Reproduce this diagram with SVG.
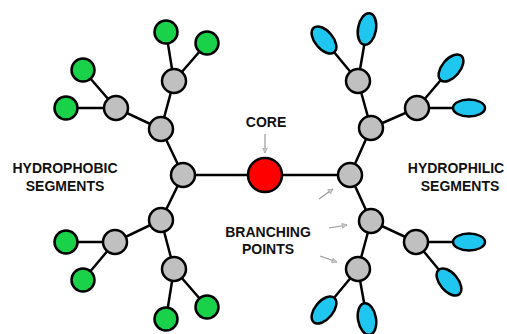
<svg xmlns="http://www.w3.org/2000/svg" width="507" height="334" viewBox="0 0 507 334">
<style>
.e{stroke:#000;stroke-width:2.5;fill:none}
.g{fill:#c0c0c0;stroke:#000;stroke-width:2.5}
.gr{fill:#19d24a;stroke:#000;stroke-width:2.5}
.b{fill:#1ec6f0;stroke:#000;stroke-width:2.5}
.r{fill:#ff0000;stroke:#000;stroke-width:2.5}
.t{font-family:"Liberation Sans",Arial,sans-serif;font-weight:bold;font-size:14px;fill:#111;text-anchor:middle}
.a{stroke:#999;stroke-width:1.2;fill:none;marker-end:url(#ah)}
</style>
<defs>
<marker id="ah" viewBox="0 0 10 10" refX="9" refY="5" markerWidth="6" markerHeight="6" orient="auto" markerUnits="userSpaceOnUse">
<path d="M1,1 L9,5 L1,9 Z" fill="#ccc" stroke="#999" stroke-width="1"/>
</marker>
</defs>
<rect width="507" height="334" fill="#fff"/>
<g id="connectors">
<path class="e" d="M183,175 H350"/>
<path class="e" d="M183,175 L161,129 L174,81 L166,32 M174,81 L207,43 M161,129 L116,108 L83,70 M116,108 L66,108"/>
<path class="e" d="M183,175 L161,220 L115,242 L66,242 M115,242 L83,280 M161,220 L174,269 L207,307 M174,269 L166,319"/>
<path class="e" d="M350,175 L371,128 L358,81 L324,40 M358,81 L367,29 M371,128 L417,108 L451,68 M417,108 L469,108"/>
<path class="e" d="M350,175 L371,221 L416,242 L469,242 M416,242 L449,282 M371,221 L358,269 L324,310 M358,269 L367,319"/>
<path class="a" d="M265,134 V153"/>
<path class="a" d="M319,199 L333,189"/>
<path class="a" d="M329,228 L347,225"/>
<path class="a" d="M320,256 L337,262"/>
</g>
<g id="core"><circle class="r" cx="265" cy="175" r="17"/></g>
<g id="hubL"><circle class="g" cx="183" cy="175" r="12"/></g>
<g id="hubR"><circle class="g" cx="350" cy="175" r="12"/></g>
<g id="L1"><circle class="g" cx="161" cy="129" r="12"/></g>
<g id="L2"><circle class="g" cx="174" cy="81" r="12"/></g>
<g id="L3"><circle class="g" cx="116" cy="108" r="12"/></g>
<g id="L4"><circle class="g" cx="161" cy="220" r="12"/></g>
<g id="L5"><circle class="g" cx="115" cy="242" r="12"/></g>
<g id="L6"><circle class="g" cx="174" cy="269" r="12"/></g>
<g id="R1"><circle class="g" cx="371" cy="128" r="12"/></g>
<g id="R2"><circle class="g" cx="358" cy="81" r="12"/></g>
<g id="R3"><circle class="g" cx="417" cy="108" r="12"/></g>
<g id="R4"><circle class="g" cx="371" cy="221" r="12"/></g>
<g id="R5"><circle class="g" cx="416" cy="242" r="12"/></g>
<g id="R6"><circle class="g" cx="358" cy="269" r="12"/></g>
<g id="G1"><circle class="gr" cx="166" cy="32" r="11.5"/></g>
<g id="G2"><circle class="gr" cx="207" cy="43" r="11.5"/></g>
<g id="G3"><circle class="gr" cx="83" cy="70" r="11.5"/></g>
<g id="G4"><circle class="gr" cx="66" cy="108" r="11.5"/></g>
<g id="G5"><circle class="gr" cx="66" cy="242" r="11.5"/></g>
<g id="G6"><circle class="gr" cx="83" cy="280" r="11.5"/></g>
<g id="G7"><circle class="gr" cx="207" cy="307" r="11.5"/></g>
<g id="G8"><circle class="gr" cx="166" cy="319" r="11.5"/></g>
<g id="B1"><ellipse class="b" cx="324" cy="40" rx="16" ry="9" transform="rotate(50 324 40)"/></g>
<g id="B2"><ellipse class="b" cx="367" cy="29" rx="16" ry="9" transform="rotate(-80 367 29)"/></g>
<g id="B3"><ellipse class="b" cx="451" cy="68" rx="16" ry="9" transform="rotate(-50 451 68)"/></g>
<g id="B4"><ellipse class="b" cx="469" cy="108" rx="16" ry="8.5"/></g>
<g id="B5"><ellipse class="b" cx="469" cy="242" rx="16" ry="8.5"/></g>
<g id="B6"><ellipse class="b" cx="449" cy="282" rx="16" ry="9" transform="rotate(50 449 282)"/></g>
<g id="B7"><ellipse class="b" cx="324" cy="310" rx="16" ry="9" transform="rotate(-50 324 310)"/></g>
<g id="B8"><ellipse class="b" cx="367" cy="319" rx="16" ry="9" transform="rotate(80 367 319)"/></g>
<g id="labels">
<text class="t" x="266" y="127">CORE</text>
<text class="t" x="65" y="173">HYDROPHOBIC</text>
<text class="t" x="65" y="191">SEGMENTS</text>
<text class="t" x="456" y="173">HYDROPHILIC</text>
<text class="t" x="460" y="191">SEGMENTS</text>
<text class="t" x="268" y="237">BRANCHING</text>
<text class="t" x="268" y="254">POINTS</text>
</g>
</svg>
